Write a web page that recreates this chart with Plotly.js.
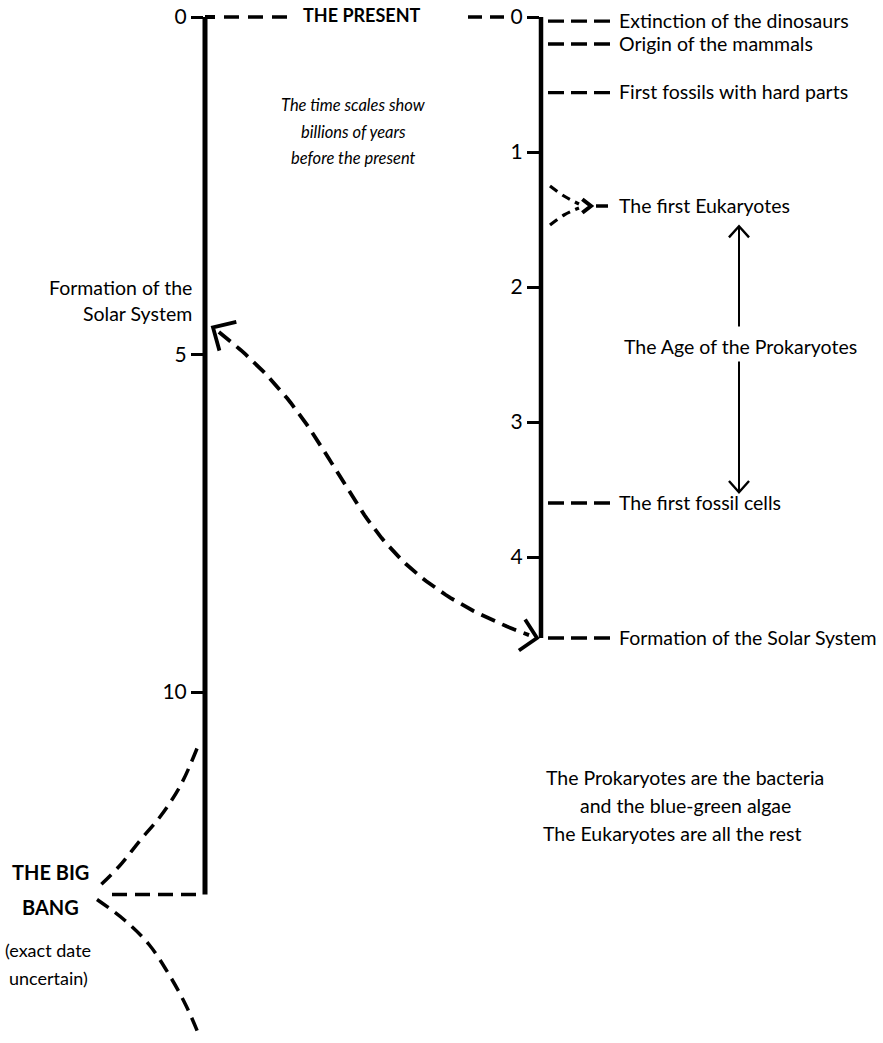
<!DOCTYPE html>
<html><head><meta charset="utf-8">
<script src="https://cdn.plot.ly/plotly-3.0.1.min.js"></script>
<style>html,body{margin:0;padding:0;background:#fff;}#chart{width:883px;height:1043px;}</style>
</head><body><div id="chart"></div>
<script>
// ---------------- data ----------------
const leftTicks = [0, 5, 10];
const rightTicks = [0, 1, 2, 3, 4];
const universeAge = 13;        // the big bang, billions of years ago (left scale)
const solarSystemAge = 4.6;    // formation of the Solar System
const eventLabels = ["Extinction of the dinosaurs", "Origin of the mammals", "First fossils with hard parts",
                     "The first Eukaryotes", "The first fossil cells", "Formation of the Solar System"];
const eventAges = [0.03, 0.2, 0.56, 1.4, 3.6, 4.6];
const prokaryoteArrow = [1.55, 3.52];   // tips of the "Age of the Prokaryotes" arrow
const prokaryoteLabelAge = 2.44;
const noteLines = ["The time scales show", "billions of years", "before the present"];
const footLines = ["The Prokaryotes are the bacteria", "and the blue-green algae", "The Eukaryotes are all the rest"];
const bigBangLines = ["THE BIG", "BANG"];
const uncertainLines = ["(exact date", "uncertain)"];

// ---------------- geometry / style ----------------
const W = 883, H = 1043;
const ZERO_PX = 17, PX_PER_L = 67.5, PX_PER_R = 135;
const X_LEFT = 205, X_RIGHT = 541;
const valL = py => (py - ZERO_PX) / PX_PER_L;
const valR = py => (py - ZERO_PX) / PX_PER_R;
const pxL = v => ZERO_PX + v * PX_PER_L;
const pxR = v => ZERO_PX + v * PX_PER_R;
const FONT = 'Lato, "Open Sans", sans-serif';
const INK = '#000';
const TXT = 19.5;

const traces = [];
function line(xs, ys, axis, width, dash, shape) {
  traces.push({type: 'scatter', mode: 'lines', x: xs, y: ys, xaxis: 'x', yaxis: axis,
    line: {color: INK, width: width, dash: dash || 'solid', shape: shape || 'linear'},
    hoverinfo: 'skip', showlegend: false});
}
function pxLine(pts, axis, width, dash, shape) {
  const conv = axis === 'y2' ? valR : valL;
  line(pts.map(p => p[0]), pts.map(p => conv(p[1])), axis, width, dash, shape);
}
function vHead(tip, dir, len, deg, axis, width) {
  const n = Math.hypot(dir[0], dir[1]);
  const d = [dir[0] / n, dir[1] / n];
  const a = deg * Math.PI / 180;
  const rot = s => [d[0] * Math.cos(s * a) - d[1] * Math.sin(s * a), d[0] * Math.sin(s * a) + d[1] * Math.cos(s * a)];
  const r1 = rot(1), r2 = rot(-1);
  pxLine([[tip[0] + len * r1[0], tip[1] + len * r1[1]], tip, [tip[0] + len * r2[0], tip[1] + len * r2[1]]], axis, width);
}

// timelines
line([X_LEFT, X_LEFT], [0, universeAge], 'y', 5);
line([X_RIGHT, X_RIGHT], [0, solarSystemAge], 'y2', 4.5);
line([X_LEFT, X_LEFT + 10], [0, 0], 'y', 4);

// "the present" connector
line([224, 288], [0, 0], 'y', 3.5, '15px,9px');
line([468, 504], [0, 0], 'y', 3.5, '14px,8px');

// event dashes on the right scale
eventAges.forEach((age, i) => {
  if (i === 3) return;
  line([X_RIGHT + 7, 610], [age, age], 'y2', 3.3, '16px,7px');
});

// eukaryote converging marks
(function () {
  const py = pxR(eventAges[3]);
  pxLine([[X_RIGHT + 9, py - 20], [X_RIGHT + 23, py - 10], [X_RIGHT + 38, py - 2]], 'y2', 3.2, '9px,6px', 'spline');
  pxLine([[X_RIGHT + 9, py + 19], [X_RIGHT + 23, py + 9], [X_RIGHT + 38, py + 2]], 'y2', 3.2, '9px,6px', 'spline');
  vHead([X_RIGHT + 50, py], [-1, 0], 11, 38, 'y2', 4);
  line([X_RIGHT + 55, 612], [eventAges[3], eventAges[3]], 'y2', 3.5, '12px,4px');
})();

// Age of the Prokaryotes arrows
(function () {
  const xa = 739;
  const tipUp = pxR(prokaryoteArrow[0]), tipDn = pxR(prokaryoteArrow[1]);
  const lab = pxR(prokaryoteLabelAge);
  pxLine([[xa, lab - 20], [xa, tipUp]], 'y2', 2);
  pxLine([[xa, lab + 15], [xa, tipDn]], 'y2', 2);
  vHead([xa, tipUp], [0, 1], 15, 42, 'y2', 2.4);
  vHead([xa, tipDn], [0, -1], 15, 42, 'y2', 2.4);
})();

// curved link between the two "Formation of the Solar System" points
(function () {
  const P0 = [X_LEFT + 8, pxL(solarSystemAge)];
  const P3 = [X_RIGHT - 4, pxR(solarSystemAge)];
  const d0 = [0.8, 0.6], d3 = [0.94, 0.33];
  const P1 = [P0[0] + 200 * d0[0], P0[1] + 200 * d0[1]];
  const P2 = [P3[0] - 230 * d3[0], P3[1] - 230 * d3[1]];
  const pts = [];
  for (let i = 0; i <= 80; i++) {
    const t = i / 80, u = 1 - t;
    const b = [u*u*u, 3*u*u*t, 3*u*t*t, t*t*t];
    pts.push([b[0]*P0[0] + b[1]*P1[0] + b[2]*P2[0] + b[3]*P3[0],
              b[0]*P0[1] + b[1]*P1[1] + b[2]*P2[1] + b[3]*P3[1]]);
  }
  pxLine(pts.slice(1, 80), 'y', 3.8, '15px,8px');
  vHead(P0, [0.85, 0.5], 24, 44, 'y', 3.8);
  vHead(P3, [-1, -0.2], 22, 46, 'y', 3.8);
})();

// big bang marks (uncertainty fan)
(function () {
  const by = pxL(universeAge);
  line([112, X_LEFT - 3], [universeAge, universeAge], 'y', 3.5, '15px,8px');
  const up = [[-8, -146], [-24, -110], [-44, -79], [-65, -54], [-86, -28], [-108, -6]];
  const dn = [[-108, 5], [-80, 26], [-56, 50], [-36, 80], [-19, 111], [-5, 143]];
  pxLine(up.map(p => [X_LEFT + p[0], by + p[1]]), 'y', 3.5, '14px,8px', 'spline');
  pxLine(dn.map(p => [X_LEFT + p[0], by + p[1]]), 'y', 3.5, '14px,8px', 'spline');
})();

// ---------------- annotations ----------------
const ann = [];
function txt(x, y, yref, text, size, opts) {
  ann.push(Object.assign({x: x, y: y, xref: 'x', yref: yref, text: text, showarrow: false,
    font: {family: FONT, size: size, color: INK}, xanchor: 'center', yanchor: 'middle'}, opts || {}));
}
txt(362, 0, 'y', '<b>THE PRESENT</b>', 18, {yshift: 2});
eventLabels.forEach((lab, i) => txt(617, eventAges[i], 'y2', lab, TXT, {xanchor: 'left', yshift: 1}));
txt(740, prokaryoteLabelAge, 'y2', 'The Age of the Prokaryotes', TXT);
txt(194, solarSystemAge, 'y', 'Formation of the', TXT, {xanchor: 'right', yshift: 40});
txt(194, solarSystemAge, 'y', 'Solar System', TXT, {xanchor: 'right', yshift: 14});
noteLines.forEach((l, i) => txt(353, 1 - (105 + i * 26.5) / H, 'paper', '<i>' + l + '</i>', 16.5));
const footX = [685, 685, 672];
footLines.forEach((l, i) => txt(footX[i], 1 - (777 + i * 28) / H, 'paper', l, TXT));
bigBangLines.forEach((l, i) => txt(50, universeAge, 'y', '<b>' + l + '</b>', 20, {yshift: 23 - i * 35}));
uncertainLines.forEach((l, i) => txt(48, universeAge, 'y', l, 18, {yshift: -55 - i * 28}));

// ---------------- layout ----------------
const axisCommon = {showgrid: false, zeroline: false, showline: false, ticks: 'outside', ticklen: 12,
  tickwidth: 3, tickcolor: INK, tickfont: {family: FONT, size: 21, color: INK}, anchor: 'free',
  side: 'left', fixedrange: true};
const layout = {
  width: W, height: H, autosize: false,
  margin: {l: 0, r: 0, t: 0, b: 0, pad: 0},
  paper_bgcolor: '#fff', plot_bgcolor: '#fff', showlegend: false,
  xaxis: {range: [0, W], visible: false, fixedrange: true},
  yaxis: Object.assign({}, axisCommon, {range: [valL(H), valL(0)], position: (X_LEFT - 2) / W,
    tickvals: leftTicks, ticktext: leftTicks.map(String)}),
  yaxis2: Object.assign({}, axisCommon, {overlaying: 'y', range: [valR(H), valR(0)], position: (X_RIGHT - 2) / W,
    tickvals: rightTicks, ticktext: rightTicks.map(String)}),
  annotations: ann
};
Plotly.newPlot('chart', traces, layout, {displayModeBar: false, staticPlot: true});
</script>
</body></html>
